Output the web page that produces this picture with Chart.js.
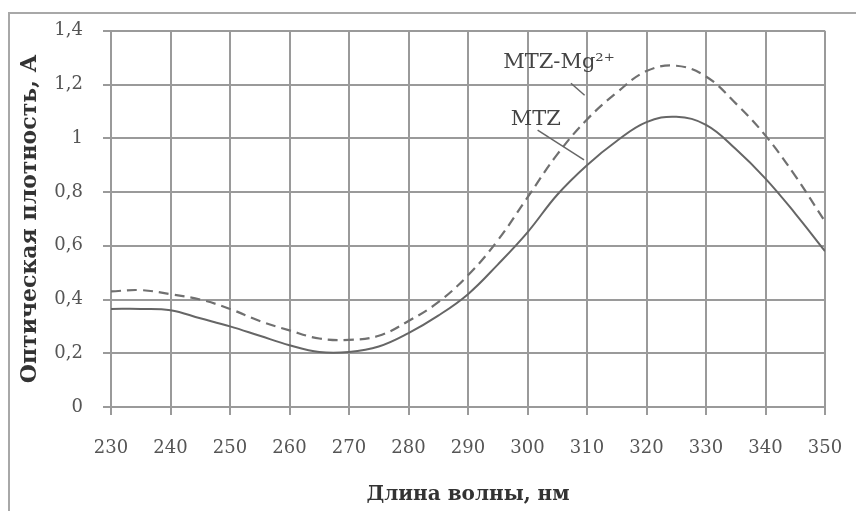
<!DOCTYPE html>
<html>
<head>
<meta charset="utf-8">
<script src="https://cdn.jsdelivr.net/npm/chart.js@4.4.1/dist/chart.umd.min.js"></script>
<style>
  html, body { margin: 0; padding: 0; background: #fff; }
  #wrap { width: 856px; height: 511px; }
</style>
</head>
<body>
<div id="wrap"><canvas id="c" width="856" height="511"></canvas></div>
<script>
// Absorption spectra, wavelength in nm
const wavelengths = [230, 235, 240, 245, 250, 255, 260, 265, 270, 275, 280, 285, 290,
                     295, 300, 305, 310, 315, 320, 325, 330, 335, 340, 345, 350];
const mtz   = [0.365, 0.365, 0.36, 0.33, 0.30, 0.265, 0.23, 0.205, 0.205, 0.225, 0.275, 0.34, 0.42,
               0.53, 0.65, 0.79, 0.90, 0.99, 1.06, 1.08, 1.05, 0.96, 0.85, 0.72, 0.58];
const mtzMg = [0.43, 0.435, 0.42, 0.40, 0.365, 0.32, 0.285, 0.255, 0.25, 0.265, 0.32, 0.39, 0.49,
               0.62, 0.78, 0.94, 1.07, 1.17, 1.25, 1.27, 1.23, 1.13, 1.01, 0.86, 0.69];

const xTicks = [230, 240, 250, 260, 270, 280, 290, 300, 310, 320, 330, 340, 350];
const yTicks = [0, 0.2, 0.4, 0.6, 0.8, 1, 1.2, 1.4];

// Curve labels with leader lines (data units: nm, A)
const calloutText     = ['MTZ-Mg\u00B2\u207A', 'MTZ'];
const calloutTextAt   = [[305.3, 1.282], [301.4, 1.069]];
const calloutLineFrom = [[307.3, 1.205], [301.7, 1.03]];
const calloutLineTo   = [[309.6, 1.16], [309.5, 0.92]];

const toPoints = (ys) => wavelengths.map((x, i) => ({ x, y: ys[i] }));
const comma = (v) => String(v).replace('.', ',');

const GRID = '#9a9a9a';
const SERIF = "'DejaVu Serif', 'Liberation Serif', serif";

const framePlugin = {
  id: 'frame',
  beforeDraw(chart) {
    const ctx = chart.ctx;
    ctx.save();
    ctx.fillStyle = '#fff';
    ctx.fillRect(0, 0, chart.width, chart.height);
    ctx.strokeStyle = '#a8a8a8';
    ctx.lineWidth = 2;
    ctx.beginPath();
    ctx.moveTo(9, chart.height);
    ctx.lineTo(9, 13);
    ctx.lineTo(chart.width, 13);
    ctx.stroke();
    ctx.restore();
  }
};

const calloutPlugin = {
  id: 'callouts',
  afterDatasetsDraw(chart) {
    const { ctx, scales: { x, y } } = chart;
    ctx.save();
    ctx.strokeStyle = '#666';
    ctx.lineWidth = 1.5;
    ctx.fillStyle = '#444';
    ctx.font = "21px " + SERIF;
    ctx.textAlign = 'center';
    ctx.textBaseline = 'middle';
    calloutText.forEach((t, i) => {
      ctx.beginPath();
      ctx.moveTo(x.getPixelForValue(calloutLineFrom[i][0]), y.getPixelForValue(calloutLineFrom[i][1]));
      ctx.lineTo(x.getPixelForValue(calloutLineTo[i][0]), y.getPixelForValue(calloutLineTo[i][1]));
      ctx.stroke();
      ctx.fillText(t, x.getPixelForValue(calloutTextAt[i][0]), y.getPixelForValue(calloutTextAt[i][1]));
    });
    ctx.restore();
  }
};

new Chart(document.getElementById('c'), {
  type: 'line',
  data: {
    datasets: [
      {
        label: 'MTZ-Mg\u00B2\u207A',
        data: toPoints(mtzMg),
        borderColor: '#707070',
        borderWidth: 2.2,
        borderDash: [10, 6],
        pointRadius: 0,
        tension: 0.4,
        fill: false
      },
      {
        label: 'MTZ',
        data: toPoints(mtz),
        borderColor: '#666',
        borderWidth: 2,
        pointRadius: 0,
        tension: 0.4,
        fill: false
      }
    ]
  },
  options: {
    responsive: false,
    devicePixelRatio: 1,
    animation: false,
    layout: { padding: { left: 17, right: 31, top: 26, bottom: 4 } },
    plugins: { legend: { display: false }, tooltip: { enabled: false } },
    scales: {
      x: {
        type: 'linear',
        min: 230,
        max: 350,
        afterBuildTicks: (s) => { s.ticks = xTicks.map(v => ({ value: v })); },
        afterFit: (s) => { s.height = 100; s.paddingRight = 0; s.paddingLeft = 0; },
        border: { display: false },
        grid: { color: GRID, lineWidth: 2, tickLength: 8, drawTicks: true },
        ticks: { color: '#555', font: { family: SERIF, size: 18 }, padding: 23, maxRotation: 0 },
        title: {
          display: true,
          text: 'Длина волны, нм',
          color: '#333',
          font: { family: SERIF, size: 20, weight: 'bold' },
          padding: { top: 0, bottom: 0 }
        }
      },
      y: {
        min: 0,
        max: 1.4,
        afterBuildTicks: (s) => { s.ticks = yTicks.map(v => ({ value: v })); },
        afterFit: (s) => { s.width = 94; },
        border: { display: false },
        grid: { color: GRID, lineWidth: 2, tickLength: 8, drawTicks: true },
        ticks: { color: '#555', font: { family: SERIF, size: 18 }, padding: 20, callback: (v) => comma(v) },
        title: {
          display: true,
          text: 'Оптическая плотность, А',
          color: '#333',
          font: { family: SERIF, size: 22, weight: 'bold' },
          padding: { top: 0, bottom: 0 }
        }
      }
    }
  },
  plugins: [framePlugin, calloutPlugin]
});
</script>
</body>
</html>
